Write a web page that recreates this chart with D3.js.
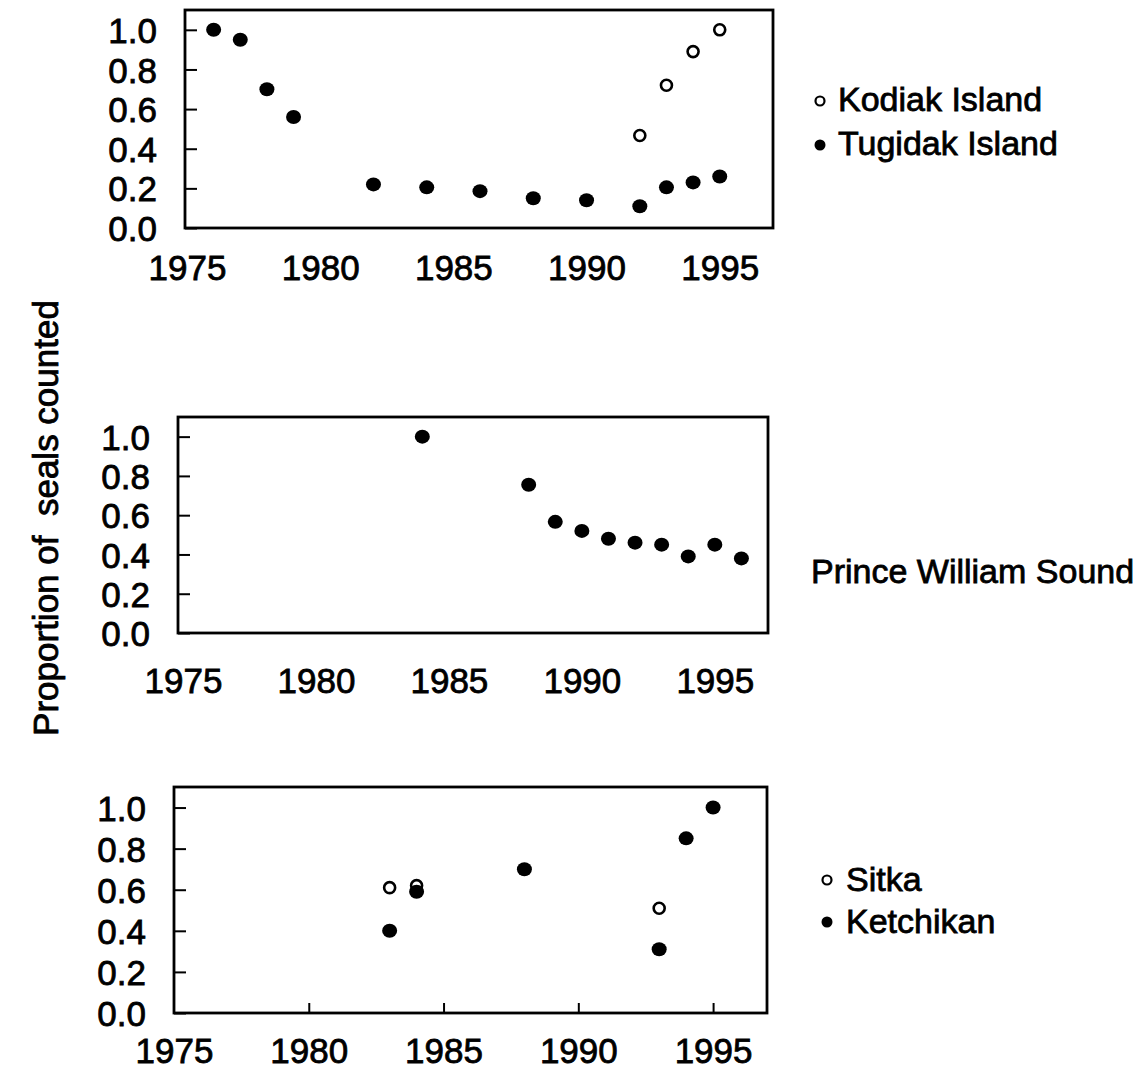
<!DOCTYPE html>
<html>
<head>
<meta charset="utf-8">
<script src="https://cdn.jsdelivr.net/npm/d3@7"></script>
<style>
  html, body { margin: 0; padding: 0; background: #fff; }
  svg { display: block; }
  text { font-family: "Liberation Sans", Arial, sans-serif; fill: #000; stroke: #000; stroke-width: 0.8px; }
</style>
</head>
<body>
<svg id="chart" width="1145" height="1075"></svg>
<script>
// ---- Data ----
const yTickValues = [0, 0.2, 0.4, 0.6, 0.8, 1.0];
const xTickValues = [1975, 1980, 1985, 1990, 1995];

// Panel 1: Kodiak / Tugidak
const tugidakYears = [1976, 1977, 1978, 1979, 1982, 1984, 1986, 1988, 1990, 1992, 1993, 1994, 1995];
const tugidakValues = [1.0, 0.95, 0.70, 0.56, 0.22, 0.205, 0.186, 0.15, 0.14, 0.11, 0.205, 0.23, 0.26];
const kodiakYears = [1992, 1993, 1994, 1995];
const kodiakValues = [0.467, 0.72, 0.89, 1.0];

// Panel 2: Prince William Sound
const pwsYears = [1984, 1988, 1989, 1990, 1991, 1992, 1993, 1994, 1995, 1996];
const pwsValues = [1.0, 0.755, 0.566, 0.52, 0.48, 0.46, 0.45, 0.39, 0.45, 0.38];

// Panel 3: Sitka / Ketchikan
const sitkaYears = [1983, 1984, 1993];
const sitkaValues = [0.61, 0.62, 0.51];
const ketchikanYears = [1983, 1984, 1988, 1993, 1994, 1995];
const ketchikanValues = [0.40, 0.59, 0.70, 0.31, 0.85, 1.0];

const yAxisTitle = "Proportion of  seals counted";

// ---- Layout ----
const svg = d3.select("#chart");
const panels = [
  { frame: { l: 185, r: 773, t: 10, b: 228 }, x0: 187, xTicks: false, labelY: 52,
    open: { years: kodiakYears, vals: kodiakValues }, filled: { years: tugidakYears, vals: tugidakValues } },
  { frame: { l: 178, r: 768, t: 417, b: 633 }, x0: 183, xTicks: false, labelY: 60,
    open: null, filled: { years: pwsYears, vals: pwsValues } },
  { frame: { l: 174, r: 767, t: 787, b: 1013 }, x0: 174, xTicks: true, labelY: 50,
    open: { years: sitkaYears, vals: sitkaValues }, filled: { years: ketchikanYears, vals: ketchikanValues } }
];

const fmt = d3.format(".1f");
const tickFont = "35px";

panels.forEach(p => {
  const f = p.frame;
  const x = d3.scaleLinear().domain([1975, 1997]).range([p.x0, f.r]);
  const y = d3.scaleLinear().domain([0, 1.1]).range([f.b, f.t]);

  const g = svg.append("g");

  // Y axis (inward ticks)
  const yAx = g.append("g")
    .attr("transform", `translate(${f.l},0)`)
    .call(d3.axisLeft(y).tickValues(yTickValues).tickFormat(fmt).tickSize(-12).tickPadding(28));
  yAx.select(".domain").remove();
  yAx.selectAll(".tick line").attr("stroke", "#000").attr("stroke-width", 2);
  yAx.selectAll(".tick text").style("font-size", tickFont).attr("fill", "#000").attr("dy", "0.36em");

  // X axis
  const xAx = g.append("g")
    .attr("transform", `translate(0,${f.b})`)
    .call(d3.axisBottom(x).tickValues(xTickValues).tickFormat(d3.format("d")).tickSize(p.xTicks ? -10 : 0));
  xAx.select(".domain").remove();
  xAx.selectAll(".tick line").attr("stroke", "#000").attr("stroke-width", 2)
    .style("display", d => (p.xTicks && d !== 1975) ? null : "none");
  xAx.selectAll(".tick text").style("font-size", tickFont).attr("fill", "#000")
    .attr("y", p.labelY).attr("dy", 0);

  // Frame
  g.append("rect")
    .attr("x", f.l).attr("y", f.t)
    .attr("width", f.r - f.l).attr("height", f.b - f.t)
    .attr("fill", "none").attr("stroke", "#000").attr("stroke-width", 2.8);

  // Open markers
  if (p.open) {
    g.append("g").selectAll("circle")
      .data(p.open.years.map((yr, i) => [yr, p.open.vals[i]]))
      .join("circle")
      .attr("cx", d => x(d[0])).attr("cy", d => y(d[1]))
      .attr("r", 5.5).attr("fill", "#fff").attr("stroke", "#000").attr("stroke-width", 2.6);
  }
  // Filled markers
  g.append("g").selectAll("ellipse")
    .data(p.filled.years.map((yr, i) => [yr, p.filled.vals[i]]))
    .join("ellipse")
    .attr("cx", d => x(d[0])).attr("cy", d => y(d[1]))
    .attr("rx", 7.5).attr("ry", 7).attr("fill", "#000");
});

// Legends / labels on the right
const legendFont = "34px";
function legendItem(cx, cy, open, label, tx, ty) {
  if (open) {
    svg.append("circle").attr("cx", cx).attr("cy", cy).attr("r", 4.5)
      .attr("fill", "#fff").attr("stroke", "#000").attr("stroke-width", 2.2);
  } else {
    svg.append("circle").attr("cx", cx).attr("cy", cy).attr("r", 5.5).attr("fill", "#000");
  }
  svg.append("text").attr("x", tx).attr("y", ty).style("font-size", legendFont).text(label);
}
legendItem(820, 101, true, "Kodiak Island", 838, 111);
legendItem(820, 145, false, "Tugidak Island", 838, 155);
legendItem(827, 880, true, "Sitka", 846, 891);
legendItem(827, 922, false, "Ketchikan", 846, 933);

svg.append("text").attr("x", 811).attr("y", 583).style("font-size", legendFont).text("Prince William Sound");

// Y axis title
svg.append("text")
  .attr("transform", "translate(58,518) rotate(-90)")
  .attr("text-anchor", "middle")
  .style("font-size", "35px")
  .style("white-space", "pre")
  .text(yAxisTitle);
</script>
</body>
</html>
